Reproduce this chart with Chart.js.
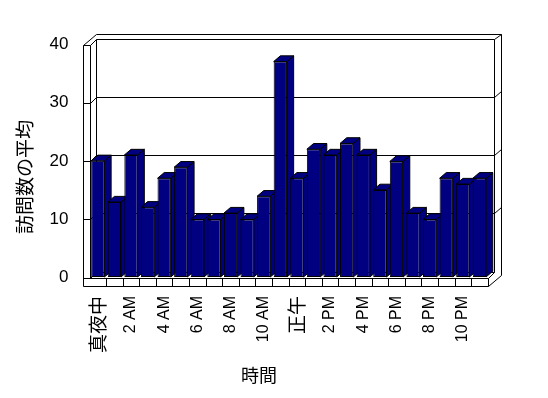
<!DOCTYPE html>
<html><head><meta charset="utf-8">
<script src="https://cdn.jsdelivr.net/npm/chart.js@4/dist/chart.umd.min.js"></script>
<style>html,body{margin:0;padding:0;background:#fff;}</style>
</head><body>
<canvas id="c" width="548" height="398" style="width:548px;height:398px;display:block"></canvas>
<script>
const categories = ['真夜中','1 AM','2 AM','3 AM','4 AM','5 AM','6 AM','7 AM','8 AM','9 AM','10 AM','11 AM',
  '正午','1 PM','2 PM','3 PM','4 PM','5 PM','6 PM','7 PM','8 PM','9 PM','10 PM','11 PM'];
const visits = [20, 12.9, 21, 12, 17, 18.9, 9.9, 9.9, 11, 9.9, 13.9, 37.1,
  17, 22, 21, 23, 21, 15, 19.9, 11, 9.9, 17, 16, 17];
const yTicks = [0, 10, 20, 30, 40];
const xTitle = '時間';
const yTitle = '訪問数の平均';

const NAVY = '#000080';
const FONT = "'Liberation Sans','Noto Sans CJK JP',sans-serif";
const CJK = "'Noto Sans CJK JP',sans-serif";

const frame3d = {
  id: 'frame3d',
  beforeDatasetsDraw(chart) {
    const ctx = chart.ctx;
    const {left: L, right: R, top: T, bottom: B} = chart.chartArea;
    const ys = chart.scales.y;
    const n = categories.length;
    const w = (R - L) / n;
    const p = v => Math.round(v) + 0.5;
    const line = pts => {
      ctx.beginPath();
      ctx.moveTo(p(pts[0][0]), p(pts[0][1]));
      for (let i = 1; i < pts.length; i++) ctx.lineTo(p(pts[i][0]), p(pts[i][1]));
      ctx.stroke();
    };
    ctx.save();
    ctx.strokeStyle = '#000';
    ctx.lineWidth = 1;
    const dx = 6.5, dy = -6;
    // outer frame
    line([[L - 7, B + 9], [L - 7, T], [L + 6, T - 11], [R + 13, T - 11], [R + 13, B - 2], [R, B + 9], [L - 7, B + 9]]);
    line([[L - 7, T], [L, T], [L, B + 1]]);
    line([[L, T], [L + dx, T + dy], [R + dx, T + dy], [R + dx, B - 5]]);
    line([[R + dx, T + dy], [R + 13, T - 11]]);
    line([[L + dx, T + dy], [L + dx, B - 5], [R + dx, B - 5]]);
    line([[L, B + 1], [L + dx, B - 5]]);
    line([[L - 7, B + 1], [R, B + 1], [R + dx, B - 5]]);
    for (let i = 1; i <= n; i++) {
      const xx = L + i * w;
      line([[xx, B + 1], [xx, B + 9]]);
    }
    // gridlines on walls
    yTicks.forEach(v => {
      if (v === 0 || v === 40) return;
      const yy = ys.getPixelForValue(v);
      line([[L - 7, yy], [L, yy], [L + dx, yy + dy], [R + dx, yy + dy], [R + 13, yy - 11.5]]);
    });
    // bar side and top faces
    const meta = chart.getDatasetMeta(0);
    const bdx = 6.7, bdy = -5.7;
    meta.data.forEach(el => {
      const xl = el.x - el.width / 2, xr = el.x + el.width / 2;
      const yt = el.y, yb = el.base;
      ctx.fillStyle = NAVY;
      const poly = pts => {
        ctx.beginPath();
        ctx.moveTo(pts[0][0], pts[0][1]);
        for (let i = 1; i < pts.length; i++) ctx.lineTo(pts[i][0], pts[i][1]);
        ctx.closePath();
        ctx.fill();
        ctx.stroke();
      };
      poly([[xr, yt], [xr + bdx, yt + bdy], [xr + bdx, yb + bdy], [xr, yb]]);
      poly([[xl, yt], [xl + bdx, yt + bdy], [xr + bdx, yt + bdy], [xr, yt]]);
    });
    ctx.restore();
  },
  afterDraw(chart) {
    const ctx = chart.ctx;
    ctx.save();
    ctx.fillStyle = '#000';
    ctx.textAlign = 'center';
    ctx.textBaseline = 'middle';
    ctx.font = "18px " + CJK;
    ctx.fillText(xTitle, 259, 375);
    ctx.translate(25, 177);
    ctx.rotate(-Math.PI / 2);
    ctx.font = "19px " + CJK;
    ctx.fillText(yTitle, 0, 0);
    ctx.restore();
  }
};

new Chart(document.getElementById('c'), {
  type: 'bar',
  data: {
    labels: categories,
    datasets: [{
      data: visits,
      backgroundColor: NAVY,
      borderColor: '#000',
      borderWidth: 1,
      borderSkipped: false,
      categoryPercentage: 1,
      barPercentage: 0.8
    }]
  },
  options: {
    responsive: false,
    animation: false,
    devicePixelRatio: 1,
    layout: {padding: {top: 44.7, right: 60.3, left: 0, bottom: 0}},
    plugins: {legend: {display: false}, tooltip: {enabled: false}, title: {display: false}},
    scales: {
      x: {
        type: 'category',
        offset: true,
        grid: {display: false, drawTicks: false},
        border: {display: false},
        ticks: {
          autoSkip: false,
          maxRotation: 90,
          minRotation: 90,
          padding: 19,
          color: '#000',
          font: ctx => {
            const lbl = categories[ctx.index] || '';
            return /[^\x00-\x7f]/.test(lbl) ? {family: CJK, size: 19} : {family: FONT, size: 16};
          },
          callback: (v, i) => (i % 2 === 0 ? categories[i] : '')
        },
        afterFit: s => { s.height = 121; }
      },
      y: {
        min: 0,
        max: 40,
        grid: {display: false, drawTicks: false},
        border: {display: false},
        ticks: {
          stepSize: 10,
          padding: 21,
          color: '#000',
          font: {family: FONT, size: 17},
          callback: v => (yTicks.includes(v) ? String(v) : '')
        },
        afterFit: s => { s.width = 89.5; }
      }
    }
  },
  plugins: [frame3d]
});
</script>
</body></html>
